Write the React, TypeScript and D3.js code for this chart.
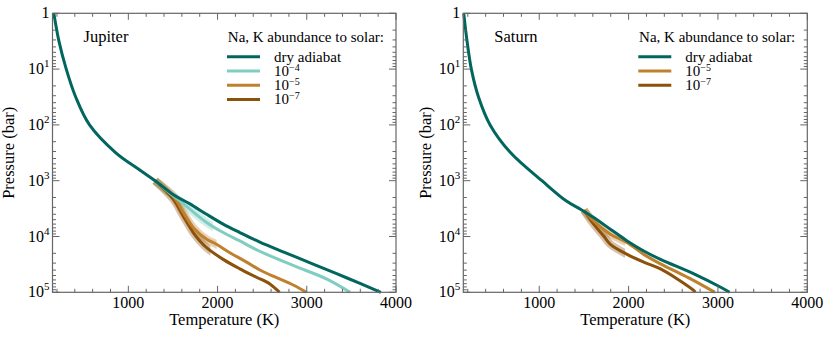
import React from "react";
import * as d3 from "d3";

// ---- data: [pressure (bar), temperature (K)] ----
const jupiterDry: [number, number][] = [
  [1, 165], [3.16, 222], [10, 304], [31.6, 410], [100, 565], [316, 860], [630, 1120], [1000, 1300],
  [1800, 1510], [2600, 1690], [4000, 1877], [6000, 2063], [8500, 2250],
  [12600, 2474], [20000, 2777], [32000, 3085], [56000, 3458], [100000, 3830],
];
const jupiterE4: [number, number][] = [
  [1000, 1300], [1800, 1490], [2300, 1578], [3240, 1690], [5600, 1877], [8500, 2063],
  [12000, 2250], [18000, 2460], [33000, 2847], [57500, 3220], [100000, 3485],
];
const jupiterE5: [number, number][] = [
  [1000, 1300], [1880, 1503], [3700, 1615], [6900, 1727], [11200, 1877], [13800, 1988],
  [19500, 2138], [28800, 2325], [39800, 2474], [53700, 2650], [74000, 2847], [100000, 2996],
];
const jupiterE7: [number, number][] = [
  [1000, 1300], [2140, 1503], [4270, 1615], [8500, 1727], [12000, 1802], [15800, 1877],
  [25700, 2063], [38000, 2250], [53700, 2437], [70800, 2586], [100000, 2695],
];
const saturnDry: [number, number][] = [
  [1, 155], [3.16, 192], [10, 240], [31.6, 320], [100, 450], [316, 680], [1000, 1030],
  [2290, 1300], [3310, 1470], [4570, 1609], [7400, 1796], [12000, 1984], [18200, 2170],
  [25700, 2357], [46800, 2731], [81300, 3031], [100000, 3130],
];
const saturnE5: [number, number][] = [
  [3390, 1500], [5250, 1609], [9100, 1796], [12900, 1984], [20900, 2170], [30900, 2357],
  [43600, 2545], [61700, 2731], [100000, 2965],
];
const saturnE7: [number, number][] = [
  [3390, 1500], [6000, 1609], [9800, 1721], [13800, 1796], [20900, 1984], [28800, 2170],
  [38000, 2357], [57500, 2545], [93300, 2731], [100000, 2745],
];

const xTicks = [1000, 2000, 3000, 4000];
const yTicks = [1, 10, 100, 1000, 10000, 100000];
const legendTitle = "Na, K abundance to solar:";

type Series = { label: string; exp?: string; color: string; data: [number, number][]; shadeEnd?: number };

const panels: { name: string; series: Series[] }[] = [
  {
    name: "Jupiter",
    series: [
      { label: "dry adiabat", color: "#01665e", data: jupiterDry },
      { label: "10", exp: "\u22124", color: "#80cdc1", data: jupiterE4, shadeEnd: 1950 },
      { label: "10", exp: "\u22125", color: "#bf812d", data: jupiterE5, shadeEnd: 1990 },
      { label: "10", exp: "\u22127", color: "#8c510a", data: jupiterE7, shadeEnd: 1920 },
    ],
  },
  {
    name: "Saturn",
    series: [
      { label: "dry adiabat", color: "#01665e", data: saturnDry },
      { label: "10", exp: "\u22125", color: "#bf812d", data: saturnE5, shadeEnd: 1960 },
      { label: "10", exp: "\u22127", color: "#8c510a", data: saturnE7, shadeEnd: 1960 },
    ],
  },
];

const FONT = "Liberation Serif, DejaVu Serif, Times New Roman, Times, serif";
const AXIS = "#666";
const tStyle = { fontFamily: FONT };

function Panel({ idx, x0, x1, y0, y1, ylabX, name, series }: any) {
  const x = d3.scaleLinear().domain([150, 4000]).range([x0, x1]);
  const y = d3.scaleLog().domain([1, 1e5]).range([y0, y1]);
  const line = d3
    .line<[number, number]>()
    .x((d) => x(d[1]))
    .y((d) => y(d[0]))
    .curve(d3.curveCatmullRom.alpha(0.5));

  const minorX = d3.range(200, 4000, 200).filter((v) => v % 1000 !== 0);
  const minorY: number[] = [];
  for (let e = 0; e < 5; e++) for (let m = 2; m <= 9; m++) minorY.push(m * Math.pow(10, e));

  const ordered = [...series].reverse();
  const cx = (x0 + x1) / 2;
  const cy = (y0 + y1) / 2;

  return (
    <g>
      <defs>
        {series.map((s: Series, i: number) =>
          s.shadeEnd ? (
            <clipPath id={`clip-${idx}-${i}`} key={i}>
              <rect x={x0} y={y0} width={x(s.shadeEnd) - x0} height={y1 - y0} />
            </clipPath>
          ) : null
        )}
      </defs>
      {series.map((s: Series, i: number) =>
        s.shadeEnd ? (
          <path
            key={"sh" + i}
            d={line(s.data) || ""}
            fill="none"
            stroke={s.color}
            strokeOpacity={0.35}
            strokeWidth={8}
            clipPath={`url(#clip-${idx}-${i})`}
          />
        ) : null
      )}
      {ordered.map((s: Series, i: number) => (
        <path key={"l" + i} d={line(s.data) || ""} fill="none" stroke={s.color} strokeWidth={3} />
      ))}
      <rect x={x0} y={y0} width={x1 - x0} height={y1 - y0} fill="none" stroke={AXIS} strokeWidth={1.2} />
      {xTicks.map((t) => (
        <g key={"xt" + t}>
          <line x1={x(t)} x2={x(t)} y1={y1} y2={y1 - 6.5} stroke={AXIS} />
          <line x1={x(t)} x2={x(t)} y1={y0} y2={y0 + 6.5} stroke={AXIS} />
          <text x={x(t)} y={y1 + 16} textAnchor="middle" style={tStyle} fontSize={16}>
            {t}
          </text>
        </g>
      ))}
      {minorX.map((t) => (
        <g key={"xm" + t}>
          <line x1={x(t)} x2={x(t)} y1={y1} y2={y1 - 3.5} stroke={AXIS} />
          <line x1={x(t)} x2={x(t)} y1={y0} y2={y0 + 3.5} stroke={AXIS} />
        </g>
      ))}
      {yTicks.map((t, i) => (
        <g key={"yt" + t}>
          <line x1={x0} x2={x0 + 7} y1={y(t)} y2={y(t)} stroke={AXIS} />
          <line x1={x1} x2={x1 - 7} y1={y(t)} y2={y(t)} stroke={AXIS} />
          {i === 0 ? (
            <text x={x0 - 3} y={y(t) + 5} textAnchor="end" style={tStyle} fontSize={16}>
              1
            </text>
          ) : (
            <text x={x0 - 3} y={y(t) + 5} textAnchor="end" style={tStyle} fontSize={16}>
              10
              <tspan fontSize={11} dy={-7}>
                {i}
              </tspan>
            </text>
          )}
        </g>
      ))}
      {minorY.map((t) => (
        <g key={"ym" + t}>
          <line x1={x0} x2={x0 + 3.5} y1={y(t)} y2={y(t)} stroke={AXIS} />
          <line x1={x1} x2={x1 - 3.5} y1={y(t)} y2={y(t)} stroke={AXIS} />
        </g>
      ))}
      <text x={cx} y={y1 + 33} textAnchor="middle" style={tStyle} fontSize={16.5}>
        Temperature (K)
      </text>
      <text
        transform={`translate(${ylabX},${cy}) rotate(-90)`}
        textAnchor="middle"
        style={tStyle}
        fontSize={16.5}
      >
        Pressure (bar)
      </text>
      <text x={x0 + 31} y={y0 + 29} style={tStyle} fontSize={16.5}>
        {name}
      </text>
      <text x={x1 - 12} y={y0 + 29} textAnchor="end" style={tStyle} fontSize={15}>
        {legendTitle}
      </text>
      {series.map((s: Series, i: number) => {
        const ly = y0 + 43.5 + i * 14.2;
        const lx = x1 - 169;
        return (
          <g key={"lg" + i}>
            <line x1={lx} x2={lx + 33} y1={ly} y2={ly} stroke={s.color} strokeWidth={3} />
            <text x={lx + 47} y={ly + 5} style={tStyle} fontSize={15}>
              {s.label}
              {s.exp ? (
                <tspan fontSize={10} dy={-5.5}>
                  {s.exp}
                </tspan>
              ) : null}
            </text>
          </g>
        );
      })}
    </g>
  );
}

export default function App() {
  return (
    <svg
      width={830}
      height={337}
      style={{ position: "absolute", left: 0, top: 0, background: "#fff" }}
    >
      <Panel idx={0} x0={52.5} x1={396} y0={13.3} y1={292.3} ylabX={13.5} {...panels[0]} />
      <Panel idx={1} x0={463.3} x1={807.3} y0={13.3} y1={292.3} ylabX={431} {...panels[1]} />
    </svg>
  );
}
